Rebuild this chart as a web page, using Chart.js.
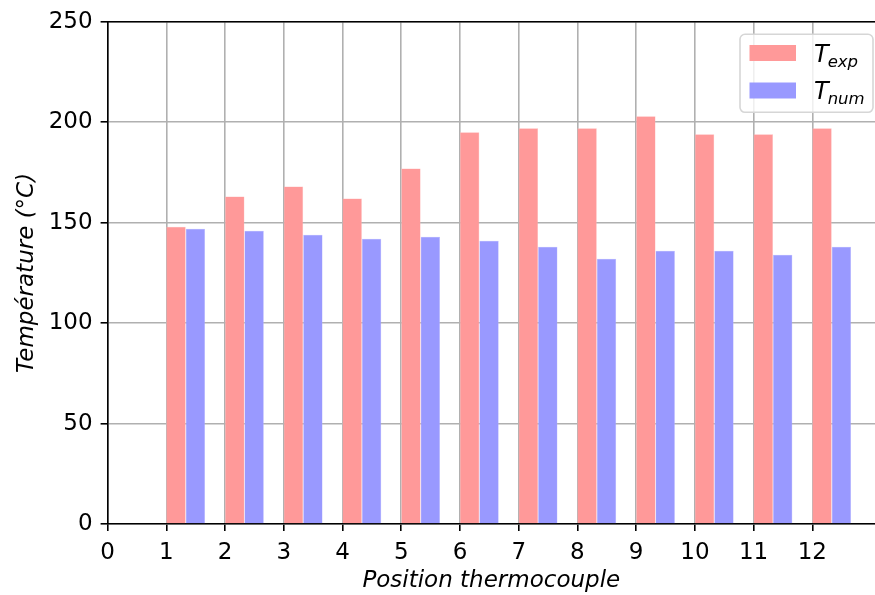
<!DOCTYPE html>
<html>
<head>
<meta charset="utf-8">
<script src="https://cdn.jsdelivr.net/npm/chart.js@4"></script>
<style>
  html, body { margin: 0; padding: 0; background: #ffffff; }
  #wrap { width: 875px; height: 595px; position: relative; }
</style>
</head>
<body>
<div id="wrap"><canvas id="c" width="875" height="595"></canvas></div>
<script>
// ---- data ----
const positions = [1, 2, 3, 4, 5, 6, 7, 8, 9, 10, 11, 12];
const tExp = [148, 163, 168, 162, 177, 195, 197, 197, 203, 194, 194, 197];
const tNum = [147, 146, 144, 142, 143, 141, 138, 132, 136, 136, 134, 138];
const seriesLabels = ['T_exp', 'T_num'];
const yTicks = [0, 50, 100, 150, 200, 250];
const xTickMax = 12;

// ---- style ----
const BAR_W = 0.33;          // bar width in axis units (two bars per group)
const FONT = "'DejaVu Sans', 'Liberation Sans', sans-serif";
const FS = 23;
const GRID = '#b0b0b0';
const LW = 1.6;

const expData = positions.map((p, i) => ({ x: p + BAR_W, y: tExp[i] }));
const numData = positions.map((p, i) => ({ x: p + BAR_W, y: tNum[i] }));

const topSpine = {
  id: 'topSpine',
  afterDraw(chart) {
    const { ctx, chartArea } = chart;
    ctx.save();
    ctx.strokeStyle = '#000';
    ctx.lineWidth = LW;
    ctx.beginPath();
    ctx.moveTo(chartArea.left, chartArea.top);
    ctx.lineTo(chartArea.right, chartArea.top);
    ctx.stroke();
    ctx.restore();
  }
};

const mathLegend = {
  id: 'mathLegend',
  afterDraw(chart) {
    const { ctx, chartArea } = chart;
    const bx = chartArea.right - 135, by = chartArea.top + 12.5, bw = 133, bh = 78;
    ctx.save();
    ctx.beginPath();
    ctx.roundRect(bx, by, bw, bh, 5);
    ctx.fillStyle = 'rgba(255,255,255,0.8)';
    ctx.fill();
    ctx.strokeStyle = '#d6d6d6';
    ctx.lineWidth = 1.6;
    ctx.stroke();
    chart.data.datasets.forEach((ds, i) => {
      const cy = by + 18.7 + i * 37.5;
      ctx.fillStyle = ds.backgroundColor;
      ctx.fillRect(bx + 9.5, cy - 8, 46.5, 16);
      const parts = ds.label.split('_');
      ctx.fillStyle = '#000';
      ctx.textBaseline = 'alphabetic';
      ctx.textAlign = 'left';
      ctx.font = 'italic 24px ' + FONT;
      const tx = bx + 74;
      const base = cy + 8.5;
      ctx.fillText(parts[0], tx, base);
      const w = ctx.measureText(parts[0]).width;
      ctx.font = 'italic 16.5px ' + FONT;
      ctx.fillText(parts[1], tx + w - 1, base + 5);
    });
    ctx.restore();
  }
};

new Chart(document.getElementById('c'), {
  type: 'bar',
  data: {
    datasets: [
      { label: seriesLabels[0], data: expData, backgroundColor: 'rgb(255,153,153)',
        borderColor: 'rgba(255,185,185,1)', borderWidth: 0.5 },
      { label: seriesLabels[1], data: numData, backgroundColor: 'rgb(153,153,255)',
        borderColor: 'rgba(185,185,255,1)', borderWidth: 0.5 }
    ]
  },
  options: {
    responsive: false,
    animation: false,
    devicePixelRatio: 1,
    categoryPercentage: 2 * BAR_W,
    barPercentage: 1.0,
    layout: { padding: { left: 0, right: 0, top: 17.5, bottom: 0 } },
    plugins: { legend: { display: false }, tooltip: { enabled: false } },
    scales: {
      x: {
        type: 'linear',
        min: 0,
        max: 13.067,
        offset: false,
        z: 1,
        grid: { offset: false, color: GRID, lineWidth: LW, tickColor: '#000', tickLength: 7, tickWidth: LW },
        border: { display: true, color: '#000', width: LW },
        ticks: { stepSize: 1, color: '#000', font: { family: FONT, size: FS }, padding: 8, maxRotation: 0, autoSkip: false },
        afterBuildTicks(scale) { scale.ticks = scale.ticks.filter(t => t.value <= xTickMax); },
        afterFit(scale) { scale.height = 71; },
        title: { display: true, text: 'Position thermocouple', color: '#000',
                 font: { family: FONT, size: FS, style: 'italic' }, padding: { top: 0, bottom: 0 } }
      },
      y: {
        min: yTicks[0],
        max: yTicks[yTicks.length - 1],
        z: 1,
        grid: { color: GRID, lineWidth: LW, tickColor: '#000', tickLength: 7, tickWidth: LW },
        border: { display: true, color: '#000', width: LW },
        ticks: { stepSize: yTicks[1] - yTicks[0], color: '#000', font: { family: FONT, size: FS }, padding: 8 },
        afterBuildTicks(scale) { scale.ticks = yTicks.map(v => ({ value: v })); },
        afterFit(scale) { scale.width = 107.6; },
        title: { display: true, text: 'Température (°C)', color: '#000',
                 font: { family: FONT, size: FS, style: 'italic' }, padding: { top: 13, bottom: 0 } }
      }
    }
  },
  plugins: [topSpine, mathLegend]
});
</script>
</body>
</html>
